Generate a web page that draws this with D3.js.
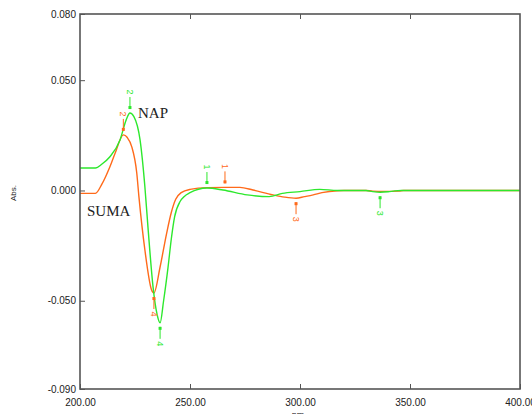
<!DOCTYPE html>
<html>
<head>
<meta charset="utf-8">
<script src="https://cdn.jsdelivr.net/npm/d3@7"></script>
<style>
  body { margin: 0; background: #fff; }
  svg { display: block; }
</style>
</head>
<body>
<div id="chart"></div>
<script>
// NAP spectrum (green)
var napWl  = [200, 207, 210, 213.6, 218.2, 221, 222.7, 224.5, 227.3, 229.5, 231, 233.2, 235, 236.4, 238, 240, 241.5, 243, 245.5, 250, 257.7, 265, 276, 286, 292, 300, 309, 317, 330, 333, 336.4, 340, 343, 346, 400];
var napAbs = [0.0102, 0.0102, 0.0120, 0.0153, 0.0229, 0.0320, 0.0351, 0.0335, 0.0229, 0.0016, -0.018, -0.0437, -0.056, -0.0600, -0.050, -0.035, -0.022, -0.012, -0.005, -0.001, 0.0011, 0.0002, -0.002, -0.0028, -0.0013, -0.0005, 0.0005, 0.0, 0.0, -0.0005, -0.0008, -0.0006, -0.0002, 0.0, 0.0];

// SUMA spectrum (orange)
var sumaWl  = [200, 207, 210, 213.6, 216, 219.7, 221.5, 223.5, 225.8, 226.8, 229.5, 232.5, 233.6, 236.4, 239.4, 241.5, 243.5, 246, 250, 258, 265.9, 272.7, 278.6, 287.7, 293, 298.2, 302, 306, 310, 317, 320, 330, 333, 338, 345, 347, 400];
var sumaAbs = [-0.0013, -0.0013, 0.003, 0.0108, 0.017, 0.0252, 0.024, 0.0199, 0.0079, -0.003, -0.027, -0.045, -0.0465, -0.0347, -0.0193, -0.010, -0.004, -0.001, 0.0005, 0.0013, 0.0014, 0.0014, 0.0002, -0.002, -0.003, -0.0035, -0.0028, -0.002, -0.001, -0.0001, 0.0, 0.0, -0.0003, -0.0004, -0.0003, 0.0, 0.0];

// peak markers
var napPeakLbl = ["1", "2", "3", "4"];
var napPeakWl  = [257.7, 222.7, 336.4, 236.4];
var napPeakAbs = [0.0011, 0.0351, -0.0008, -0.0600];
var napPeakUp  = [true, true, false, false];

var sumaPeakLbl = ["1", "2", "3", "4"];
var sumaPeakWl  = [265.9, 219.7, 298.2, 233.6];
var sumaPeakAbs = [0.0014, 0.0252, -0.0035, -0.0465];
var sumaPeakUp  = [true, true, false, false];

var xTicks = [200, 250, 300, 350, 400];
var yTicks = [0.08, 0.05, 0, -0.05, -0.09];

var w = 532, h = 414;
var pLeft = 80, pRight = 520, pTop = 14, pBottom = 389;
var green = "#2de82d", orange = "#ff6a1a";

var svg = d3.select("#chart").append("svg")
  .attr("width", w).attr("height", h);

var x = d3.scaleLinear().domain([200, 400]).range([pLeft, pRight]);
var y = d3.scaleLinear().domain([-0.09, 0.08]).range([pBottom, pTop]);

var fmtY = function(d) { return d3.format(".3f")(d).replace("\u2212", "-"); };
var fmtX = d3.format(".2f");

svg.append("defs").append("clipPath").attr("id", "plot")
  .append("rect").attr("x", pLeft).attr("y", pTop)
  .attr("width", pRight - pLeft).attr("height", pBottom - pTop);

var line = d3.line()
  .x(function(d) { return x(d[0]); })
  .y(function(d) { return y(d[1]); })
  .curve(d3.curveMonotoneX);

var sumaData = d3.zip(sumaWl, sumaAbs);
var napData = d3.zip(napWl, napAbs);

var plot = svg.append("g").attr("clip-path", "url(#plot)");

plot.append("path").datum(sumaData)
  .attr("fill", "none").attr("stroke", orange).attr("stroke-width", 1.4)
  .attr("d", line);

plot.append("path").datum(napData)
  .attr("fill", "none").attr("stroke", green).attr("stroke-width", 1.4)
  .attr("d", line);

function drawMarkers(lbls, wls, vals, ups, color) {
  var g = svg.append("g");
  lbls.forEach(function(l, i) {
    var cx = x(wls[i]), cy = y(vals[i]);
    var s = ups[i] ? -1 : 1;
    g.append("line")
      .attr("x1", cx).attr("x2", cx)
      .attr("y1", cy + s * 4).attr("y2", cy + s * 16)
      .attr("stroke", color).attr("stroke-width", 1);
    g.append("rect")
      .attr("x", cx - 1.5).attr("y", cy + s * 5.5 - 1.5)
      .attr("width", 3).attr("height", 3)
      .attr("fill", color);
    g.append("text")
      .attr("transform", "translate(" + cx + "," + (cy + s * 21) + ") rotate(90)")
      .attr("text-anchor", "middle")
      .attr("dominant-baseline", "central")
      .style("font-family", "Liberation Sans, Arial, sans-serif")
      .style("font-size", "9px")
      .attr("fill", color)
      .text(l);
  });
}
drawMarkers(sumaPeakLbl, sumaPeakWl, sumaPeakAbs, sumaPeakUp, orange);
drawMarkers(napPeakLbl, napPeakWl, napPeakAbs, napPeakUp, green);

// axes
var axisColor = "#555";
var yAxis = svg.append("g").attr("transform", "translate(" + pLeft + ",0)")
  .call(d3.axisLeft(y).tickValues(yTicks).tickSizeInner(-5).tickSizeOuter(0).tickPadding(4).tickFormat(fmtY));
var xAxis = svg.append("g").attr("transform", "translate(0," + pBottom + ")")
  .call(d3.axisBottom(x).tickValues(xTicks).tickSizeInner(-5).tickSizeOuter(0).tickPadding(10).tickFormat(fmtX));
var xTop = svg.append("g").attr("transform", "translate(0," + pTop + ")")
  .call(d3.axisTop(x).tickValues([250, 300, 350]).tickSizeInner(-5).tickSizeOuter(0).tickFormat(""));

[yAxis, xAxis, xTop].forEach(function(a) {
  a.select(".domain").remove();
  a.selectAll(".tick line").attr("stroke", axisColor);
  a.selectAll(".tick text")
    .style("font-family", "Liberation Sans, Arial, sans-serif")
    .style("font-size", "10px")
    .attr("fill", "#222");
});

svg.append("rect")
  .attr("x", pLeft).attr("y", pTop)
  .attr("width", pRight - pLeft).attr("height", pBottom - pTop)
  .attr("fill", "none").attr("stroke", axisColor).attr("stroke-width", 1.6);

// axis titles
svg.append("text")
  .attr("transform", "translate(16,193) rotate(-90)")
  .attr("text-anchor", "middle")
  .style("font-family", "Liberation Sans, Arial, sans-serif")
  .style("font-size", "8px")
  .attr("fill", "#222")
  .text("Abs.");

svg.append("text")
  .attr("x", 298).attr("y", 418)
  .attr("text-anchor", "middle")
  .style("font-family", "Liberation Sans, Arial, sans-serif")
  .style("font-size", "9px")
  .attr("fill", "#222")
  .text("nm");

// series names
svg.append("text")
  .attr("x", 138).attr("y", 118)
  .style("font-family", "Liberation Serif, Times New Roman, serif")
  .style("font-size", "15px")
  .attr("fill", "#222")
  .text("NAP");

svg.append("text")
  .attr("x", 87).attr("y", 216)
  .style("font-family", "Liberation Serif, Times New Roman, serif")
  .style("font-size", "15px")
  .attr("fill", "#222")
  .text("SUMA");
</script>
</body>
</html>
